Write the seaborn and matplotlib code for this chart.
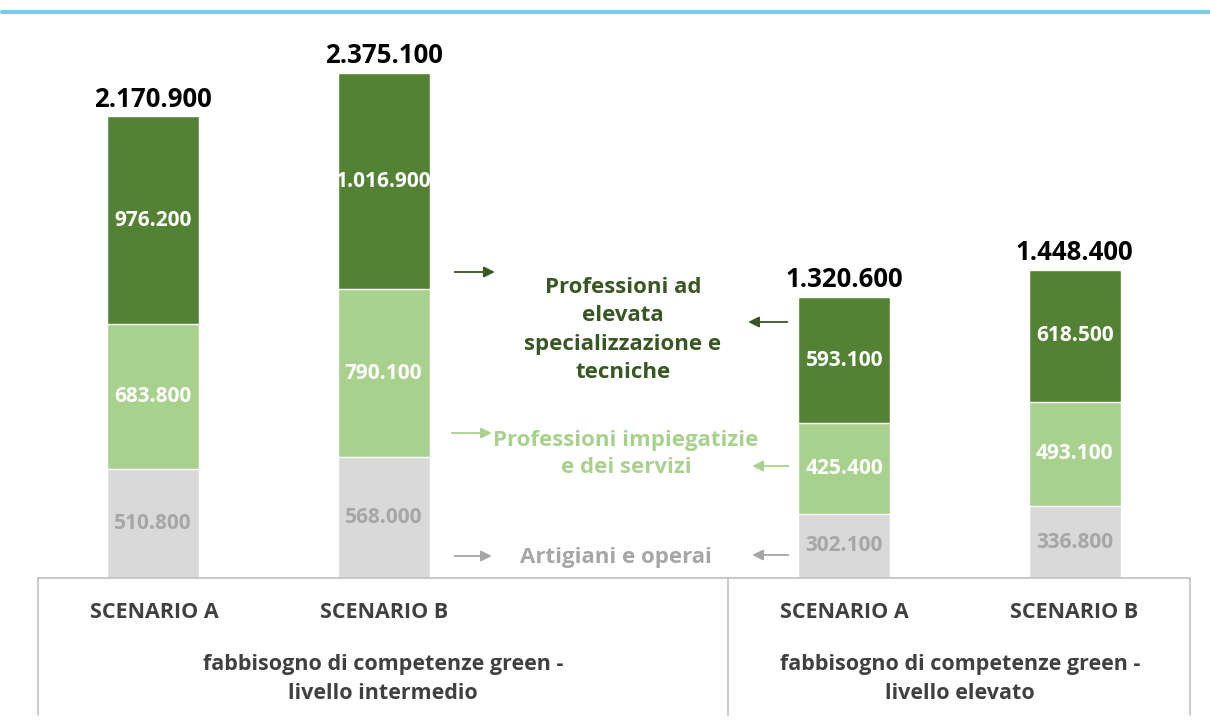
import seaborn as sns
import matplotlib.pyplot as plt
from matplotlib.lines import Line2D
import pandas as pd

# values
slots = ["int_A", "int_B", "gap", "ele_A", "ele_B"]
bar_slots = ["int_A", "int_B", "ele_A", "ele_B"]
scenario_labels = ["SCENARIO A", "SCENARIO B", "SCENARIO A", "SCENARIO B"]
artigiani = [510800, 568000, 302100, 336800]
impiegatizie = [683800, 790100, 425400, 493100]
elevata = [976200, 1016900, 593100, 618500]
totals = [2170900, 2375100, 1320600, 1448400]
group_labels = ["fabbisogno di competenze green -\nlivello intermedio",
                "fabbisogno di competenze green -\nlivello elevato"]

DARK = "#548235"
LIGHT = "#A9D18E"
GREY = "#D9D9D9"
GREY_TXT = "#A6A6A6"
DARK_TXT = "#385723"

sns.set_theme(style="white")
plt.rcParams["font.family"] = ["Open Sans", "DejaVu Sans"]

W, H = 1210, 727
fig = plt.figure(figsize=(W / 100, H / 100), dpi=100)
ax = fig.add_axes([38 / W, (H - 578) / H, (1190 - 38) / W, (578 - 40) / H])

df = pd.DataFrame({"slot": bar_slots, "art": artigiani, "imp": impiegatizie, "ele": elevata})
df["c2"] = df["art"] + df["imp"]
df["c3"] = df["c2"] + df["ele"]

# stacked look: draw cumulative bars from tallest to shortest
for col, colr in [("c3", DARK), ("c2", LIGHT), ("art", GREY)]:
    sns.barplot(data=df, x="slot", y=col, order=slots, color=colr, width=0.4,
                saturation=1, errorbar=None, ax=ax)

ymax = (578 - 40) * 4703
ax.set_ylim(0, ymax)
ax.set_xlim(-0.5, 4.5)
ax.set_xlabel("")
ax.set_ylabel("")
ax.set_xticks([])
ax.set_yticks([])
sns.despine(ax=ax, left=True, top=True, right=True, bottom=True)

pos = [slots.index(s) for s in bar_slots]
fmt = lambda v: f"{v:,}".replace(",", ".")
for i, p in enumerate(pos):
    a, b, c = artigiani[i], impiegatizie[i], elevata[i]
    ax.text(p, a / 2, fmt(a), ha="center", va="center", color=GREY_TXT,
            fontsize=15, fontweight="bold")
    ax.text(p, a + b / 2, fmt(b), ha="center", va="center", color="white",
            fontsize=15, fontweight="bold")
    ax.text(p, a + b + c / 2, fmt(c), ha="center", va="center", color="white",
            fontsize=15, fontweight="bold")
    ax.text(p, totals[i] + 18000, fmt(totals[i]), ha="center", va="bottom",
            color="black", fontsize=18.5, fontweight="bold")


def px(x, y):
    return ((x - 154) / 230, (578 - y) * 4703)


# legend-like labels in the gap
ax.text(*px(623, 330), "Professioni ad\nelevata\nspecializzazione e\ntecniche",
        ha="center", va="center", color=DARK_TXT, fontsize=16, fontweight="bold",
        linespacing=1.45)
ax.text(*px(626, 454), "Professioni impiegatizie\ne dei servizi", ha="center",
        va="center", color=LIGHT, fontsize=16, fontweight="bold", linespacing=1.35)
ax.text(*px(616, 557), "Artigiani e operai", ha="center", va="center",
        color=GREY_TXT, fontsize=16, fontweight="bold")

arrows = [
    (455, 495, 272, DARK_TXT), (452, 492, 433, LIGHT), (455, 492, 556, GREY_TXT),
    (787, 748, 322, DARK_TXT), (788, 752, 466, LIGHT), (788, 752, 555, GREY_TXT),
]
for x0, x1, y, colr in arrows:
    ax.annotate("", xy=px(x1, y), xytext=px(x0, y),
                arrowprops=dict(arrowstyle="-|>", color=colr, lw=1.3,
                                mutation_scale=16, shrinkA=0, shrinkB=0))

# category box below the bars
line_col = "#BFBFBF"
fig.add_artist(Line2D([38 / W, 1190 / W], [(H - 578) / H] * 2, color=line_col, lw=1.2))
for xv in [38, 728, 1190]:
    fig.add_artist(Line2D([xv / W] * 2, [(H - 578) / H, (H - 715) / H],
                          color=line_col, lw=1.2))

for i, p in enumerate(pos):
    xpx = 154 + 230 * p
    fig.text(xpx / W, (H - 613) / H, scenario_labels[i], ha="center", va="center",
             color="#404040", fontsize=15.5, fontweight="bold")
for xc, lab in zip([383, 960], group_labels):
    fig.text(xc / W, (H - 679) / H, lab, ha="center", va="center",
             color="#404040", fontsize=15.5, fontweight="bold", linespacing=1.5)

# teal rule on top
fig.add_artist(Line2D([2 / W, 1], [(H - 12) / H] * 2, color="#7ACCEA", lw=3))

fig.savefig("out.png", dpi=100)
